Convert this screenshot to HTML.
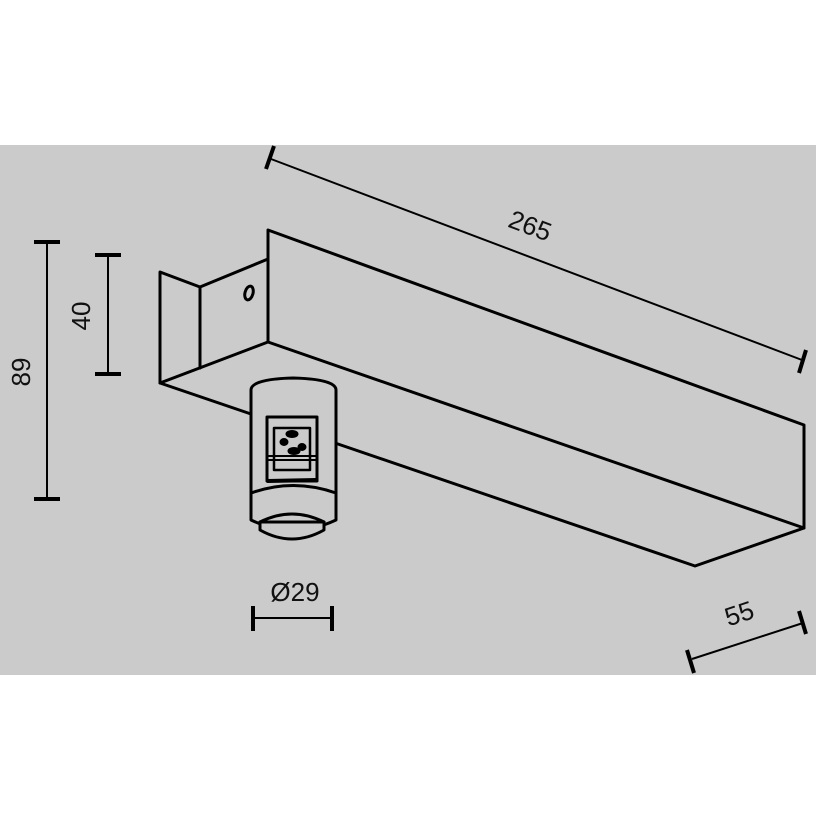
<!DOCTYPE html>
<html><head><meta charset="utf-8"><style>
html,body{margin:0;padding:0;background:#fff;}
svg{display:block;}
text{font-family:"Liberation Sans",sans-serif;fill:#111;}
</style></head><body>
<svg width="816" height="816" viewBox="0 0 816 816" xmlns="http://www.w3.org/2000/svg">
<rect x="0" y="0" width="816" height="816" fill="#fff"/>
<rect x="0" y="145" width="816" height="530" fill="#cbcbcb"/>
<g stroke="#000" fill="none" stroke-width="3" stroke-linejoin="round" stroke-linecap="round">
  <polyline points="268,342 268,230 804,425 804,528 268,342"/>
  <polyline points="804,528 695,566 335,443"/>
  <line x1="160" y1="383" x2="251" y2="414"/>
  <polyline points="268,259 200,287 200,368"/>
  <polyline points="200,287 160,272 160,383 268,342"/>
  <ellipse cx="249" cy="293" rx="4" ry="7" transform="rotate(15 249 293)"/>
  <!-- cylinder -->
  <path d="M251,520 L251,390 Q251,379 293,378 Q336,379 336,390 L336,520 Q293,540 251,520 Z" fill="#cbcbcb"/>
  <path d="M251,493 Q293,478 336,493"/>
  <path d="M260,522 L260,530 Q292,548 324,530 L324,522 Z" fill="#cbcbcb"/>
  <path d="M260,522 Q292,506 324,522"/>
  <rect x="267" y="417" width="50" height="64"/>
  <rect x="274" y="428" width="36" height="42" stroke-width="2.5"/>
  <line x1="268" y1="456" x2="316" y2="456" stroke-width="2"/>
  <line x1="268" y1="460" x2="316" y2="460" stroke-width="2"/>
  <line x1="268" y1="481" x2="316" y2="480" stroke-width="4"/>
  <ellipse cx="292" cy="434" rx="5" ry="2.5" fill="#000"/>
  <ellipse cx="284" cy="442" rx="3" ry="2.5" fill="#000"/>
  <ellipse cx="294" cy="451" rx="5" ry="2.5" fill="#000"/>
  <ellipse cx="302" cy="447" rx="3" ry="2.5" fill="#000"/>
</g>
<g stroke="#000" fill="none">
  <line x1="47" y1="242" x2="47" y2="499" stroke-width="2"/>
  <line x1="34" y1="242" x2="60" y2="242" stroke-width="4"/>
  <line x1="34" y1="499" x2="60" y2="499" stroke-width="4"/>
  <line x1="108" y1="255" x2="108" y2="374" stroke-width="2"/>
  <line x1="95" y1="255" x2="121" y2="255" stroke-width="4"/>
  <line x1="95" y1="374" x2="121" y2="374" stroke-width="4"/>
  <line x1="271" y1="159" x2="802" y2="360" stroke-width="2"/>
  <line x1="274" y1="146" x2="266" y2="169" stroke-width="4"/>
  <line x1="806" y1="350" x2="799" y2="373" stroke-width="4"/>
  <line x1="253" y1="618" x2="332" y2="618" stroke-width="2"/>
  <line x1="253" y1="606" x2="253" y2="631" stroke-width="4"/>
  <line x1="332" y1="606" x2="332" y2="631" stroke-width="4"/>
  <line x1="692" y1="659" x2="803" y2="623" stroke-width="2"/>
  <line x1="687" y1="650" x2="694" y2="673" stroke-width="4"/>
  <line x1="799" y1="611" x2="806" y2="634" stroke-width="4"/>
</g>
<text x="0" y="0" font-size="26" text-anchor="middle" transform="translate(30,372) rotate(-90)">89</text>
<text x="0" y="0" font-size="26" text-anchor="middle" transform="translate(90,316) rotate(-90)">40</text>
<text x="0" y="0" font-size="26" text-anchor="middle" transform="translate(527,234) rotate(20.7)">265</text>
<text x="295" y="601" font-size="26" text-anchor="middle">Ø29</text>
<text x="0" y="0" font-size="26" text-anchor="middle" transform="translate(742,622) rotate(-18)">55</text>
</svg>
</body></html>
